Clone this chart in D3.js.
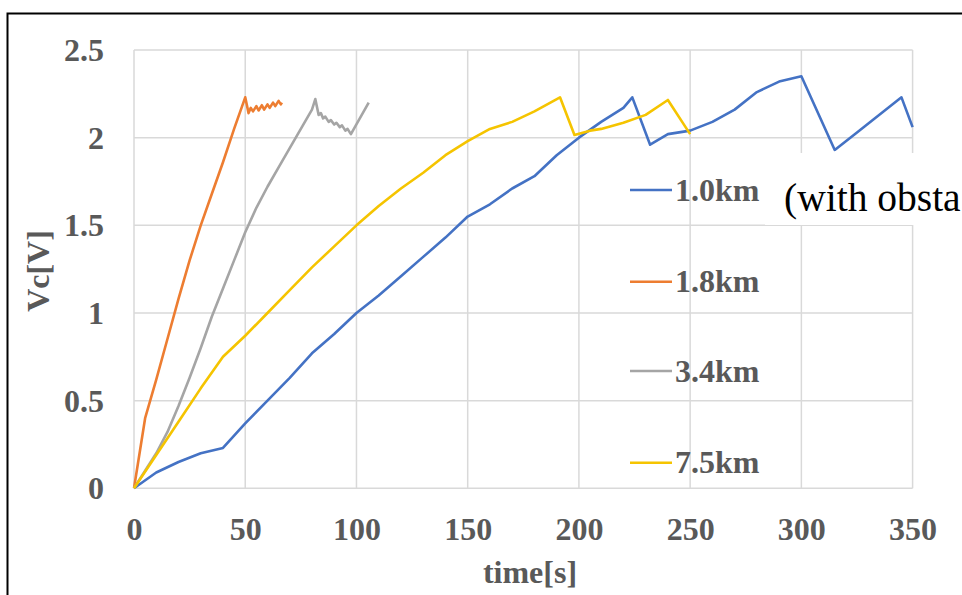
<!DOCTYPE html>
<html><head><meta charset="utf-8">
<script src="https://cdn.jsdelivr.net/npm/d3@7"></script>
<style>
html,body{margin:0;padding:0;background:#fff;overflow:hidden;}
svg{display:block;}
</style></head>
<body>
<script>
// ---- data ----
const seriesNames = ["1.0km", "1.8km", "3.4km", "7.5km"];
const seriesColors = ["#4472C4", "#ED7D31", "#A5A5A5", "#F5C400"];

const t10 = [0,10,20,30,40,50,60,70,80,90,100,110,120,130,140,150,160,170,180,190,200,210,220,224,232,240,250,260,270,280,290,300,315,325,345,350];
const v10 = [0,0.09,0.15,0.2,0.23,0.37,0.5,0.63,0.77,0.88,1.0,1.1,1.21,1.32,1.43,1.55,1.62,1.71,1.78,1.9,2.0,2.09,2.17,2.23,1.96,2.02,2.04,2.09,2.16,2.26,2.32,2.35,1.93,2.03,2.23,2.06];

const t18 = [0,5,10,15,20,25,30,35,40,45,50,51.5,52.5,53.5,55,56,57.5,58.5,60,61,62.5,63.5,65,66,66.5];
const v18 = [0,0.4,0.62,0.85,1.08,1.3,1.5,1.68,1.86,2.05,2.23,2.14,2.17,2.15,2.18,2.155,2.185,2.16,2.19,2.17,2.2,2.18,2.21,2.19,2.2];

const t34 = [0,5,10,15,20,25,30,35,40,45,50,55,60,65,70,75,80,81.5,83,84,85,86,87.5,88.5,90,91,92.5,93.5,95,96,97.5,105.5];
const v34 = [0,0.1,0.2,0.32,0.47,0.63,0.8,0.98,1.14,1.3,1.46,1.6,1.72,1.83,1.94,2.05,2.16,2.22,2.13,2.14,2.11,2.12,2.09,2.1,2.075,2.085,2.06,2.07,2.04,2.05,2.02,2.2];

const t75 = [0,10,20,30,40,50,60,70,80,90,100,110,120,130,140,150,160,170,180,191.5,198,205,210,220,230,240,250];
const v75 = [0,0.19,0.38,0.57,0.75,0.87,1.0,1.13,1.26,1.38,1.5,1.61,1.71,1.8,1.9,1.98,2.05,2.09,2.15,2.23,2.015,2.04,2.05,2.085,2.13,2.215,2.02];

const xTicks = [0,50,100,150,200,250,300,350];
const yTicks = [0,0.5,1,1.5,2,2.5];
const yTickLabels = ["0","0.5","1","1.5","2","2.5"];
const xTitle = "time[s]";
const yTitle = "Vc[V]";
const noteText = "(with obsta";

const series = [
  {name: seriesNames[0], color: seriesColors[0], pts: t10.map((t,i)=>[t, v10[i]])},
  {name: seriesNames[1], color: seriesColors[1], pts: t18.map((t,i)=>[t, v18[i]])},
  {name: seriesNames[2], color: seriesColors[2], pts: t34.map((t,i)=>[t, v34[i]])},
  {name: seriesNames[3], color: seriesColors[3], pts: t75.map((t,i)=>[t, v75[i]])}
];

// ---- drawing ----
const W = 962, H = 595;
const svg = d3.select("body").append("svg").attr("width", W).attr("height", H);

const x = d3.scaleLinear().domain([0,350]).range([134, 912.6]);
const y = d3.scaleLinear().domain([0,2.5]).range([488.3, 50]);

const serif = "'Liberation Serif','Times New Roman',serif";
const labelColor = "#595959";

// outer frame
svg.append("rect").attr("x", 7.5).attr("y", 13.5).attr("width", 1000).attr("height", 700)
  .attr("fill", "none").attr("stroke", "#000").attr("stroke-width", 2);

// gridlines
const grid = svg.append("g");
grid.selectAll("line.v").data(xTicks).join("line")
  .attr("x1", d=>x(d)).attr("x2", d=>x(d)).attr("y1", y(0)).attr("y2", y(2.5))
  .attr("stroke", "#d9d9d9").attr("stroke-width", 1.5);
grid.selectAll("line.h").data(yTicks).join("line")
  .attr("y1", d=>y(d)).attr("y2", d=>y(d)).attr("x1", x(0)).attr("x2", x(350))
  .attr("stroke", "#d9d9d9").attr("stroke-width", 1.5);

// axes (tick labels only)
const xAxis = d3.axisBottom(x).tickValues(xTicks).tickSize(0).tickPadding(0).tickFormat(d3.format("d"));
const gx = svg.append("g").attr("transform", `translate(0,${y(0)})`).call(xAxis);
gx.select(".domain").remove();
gx.selectAll("text").attr("y", 0).attr("dy", "0").attr("transform", "translate(0,52)")
  .style("font-family", serif).style("font-weight", "bold").style("font-size", "32px").attr("fill", labelColor);

const yAxis = d3.axisLeft(y).tickValues(yTicks).tickSize(0).tickPadding(0).tickFormat((d,i)=>yTickLabels[i]);
const gy = svg.append("g").attr("transform", `translate(104,0)`).call(yAxis);
gy.select(".domain").remove();
gy.selectAll("text").attr("x", 0).attr("dy", "0.33em")
  .style("font-family", serif).style("font-weight", "bold").style("font-size", "32px").attr("fill", labelColor);

// lines
const line = d3.line().x(d=>x(d[0])).y(d=>y(d[1]));
svg.append("g").selectAll("path").data(series).join("path")
  .attr("d", d=>line(d.pts)).attr("fill", "none").attr("stroke", d=>d.color)
  .attr("stroke-width", 2.6).attr("stroke-linejoin", "round");

// axis titles
svg.append("text").attr("x", 530).attr("y", 583).attr("text-anchor", "middle")
  .style("font-family", serif).style("font-weight", "bold").style("font-size", "32px")
  .attr("fill", labelColor).text(xTitle);
svg.append("text").attr("transform", "translate(49,271) rotate(-90)").attr("text-anchor", "middle")
  .style("font-family", serif).style("font-weight", "bold").style("font-size", "32px")
  .attr("fill", labelColor).text(yTitle);

// legend
const legY = [190, 281.7, 371, 462.7];
const leg = svg.append("g").selectAll("g").data(series).join("g")
  .attr("transform", (d,i)=>`translate(630,${legY[i]})`);
leg.append("line").attr("x1", 0).attr("x2", 42).attr("y1", 0).attr("y2", 0)
  .attr("stroke", d=>d.color).attr("stroke-width", 2.6);
leg.append("text").attr("x", 45).attr("y", 10.5)
  .style("font-family", serif).style("font-weight", "bold").style("font-size", "32px")
  .attr("fill", labelColor).text(d=>d.name);

// note box
svg.append("rect").attr("x", 765).attr("y", 153).attr("width", 200).attr("height", 72).attr("fill", "#fff");
svg.append("text").attr("x", 784).attr("y", 211)
  .style("font-family", serif).style("font-size", "39.5px").attr("fill", "#000").text(noteText);
</script>
</body></html>
